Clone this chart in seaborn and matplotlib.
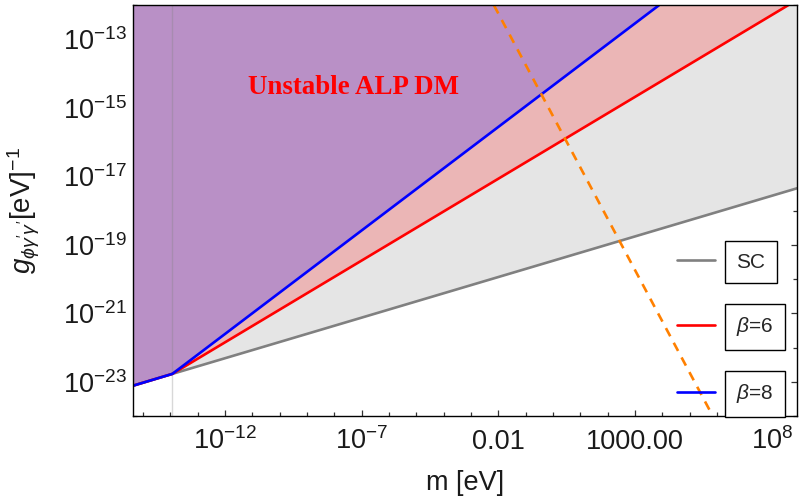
import matplotlib
matplotlib.use("Agg")
import matplotlib.pyplot as plt
import matplotlib.ticker as mticker
from matplotlib.lines import Line2D
import numpy as np
import pandas as pd
import seaborn as sns

# ---- data (mass in eV, coupling in eV^-1) ----
m_range = [4.2e-16, 8.3e8]
g_range = [1e-24, 1e-12]

m_sc = [4.2e-16, 1.2e-14, 8.3e8]
g_sc = [7.6e-24, 1.7e-23, 4.5e-18]

m_beta6 = [4.2e-16, 1.2e-14, 3.9e8]
g_beta6 = [7.6e-24, 1.7e-23, 1e-12]

m_beta8 = [4.2e-16, 1.2e-14, 7.4e3]
g_beta8 = [7.6e-24, 1.7e-23, 1e-12]

m_dashed = [6.9e-3, 6.9e5]
g_dashed = [1e-12, 1e-24]

m_threshold = 1.2e-14

x_tick_vals = [1e-12, 1e-7, 1e-2, 1e3, 1e8]
x_tick_labels = [r"$10^{-12}$", r"$10^{-7}$", "0.01", "1000.00", r"$10^{8}$"]
y_tick_vals = [1e-23, 1e-21, 1e-19, 1e-17, 1e-15, 1e-13]

legend_labels = ["SC", r"$\beta$=6", r"$\beta$=8"]

# ---- style ----
sns.set_style("ticks")
plt.rcParams["font.family"] = ["Liberation Sans", "DejaVu Sans"]
plt.rcParams["mathtext.fontset"] = "custom"
plt.rcParams["mathtext.rm"] = "Liberation Sans"
plt.rcParams["mathtext.it"] = "Liberation Sans:italic"
plt.rcParams["mathtext.bf"] = "Liberation Sans:bold"

c_purple = "#b990c6"
c_pink = "#ebb6b6"
c_grey = "#e5e5e5"
c_sc = "#808080"
c_red = "#ff0000"
c_blue = "#0000ff"
c_orange = "#ff8000"
c_text = "#1a1a1a"

fig = plt.figure(figsize=(8, 4.99), dpi=100)
ax = fig.add_axes([132.5 / 800, 1 - 416 / 499, (797 - 132.5) / 800, (416 - 5.3) / 499])
ax.set_xscale("log")
ax.set_yscale("log")

top = g_range[1]
# shaded regions, layered from the SC bound upward
ax.fill_between(m_sc, g_sc, top, color=c_grey, lw=0, zorder=1)
ax.fill_between(m_beta6, g_beta6, top, color=c_pink, lw=0, zorder=2)
ax.fill_between(m_beta8, g_beta8, top, color=c_purple, lw=0, zorder=3)

ax.axvline(m_threshold, color="#808080", alpha=0.3, lw=1.0, zorder=4)

lw = 1.9
df_sc = pd.DataFrame({"m": m_sc, "g": g_sc})
df_b6 = pd.DataFrame({"m": m_beta6, "g": g_beta6})
df_b8 = pd.DataFrame({"m": m_beta8, "g": g_beta8})
df_dash = pd.DataFrame({"m": m_dashed, "g": g_dashed})

sns.lineplot(data=df_sc, x="m", y="g", color=c_sc, lw=lw, ax=ax, zorder=5, legend=False)
sns.lineplot(data=df_b6, x="m", y="g", color=c_red, lw=lw, ax=ax, zorder=6, legend=False)
sns.lineplot(data=df_b8, x="m", y="g", color=c_blue, lw=lw, ax=ax, zorder=7, legend=False)
sns.lineplot(data=df_dash, x="m", y="g", color=c_orange, lw=lw, ax=ax, zorder=8,
             legend=False, dashes=False, linestyle=(0, (3.5, 2.8)))

ax.set_xlim(*m_range)
ax.set_ylim(*g_range)

# ---- ticks ----
ax.xaxis.set_major_locator(mticker.FixedLocator(x_tick_vals))
ax.xaxis.set_major_formatter(mticker.FixedFormatter(x_tick_labels))
ax.xaxis.set_minor_locator(mticker.LogLocator(base=10, subs=(1.0,), numticks=60))
ax.xaxis.set_minor_formatter(mticker.NullFormatter())
ax.yaxis.set_major_locator(mticker.FixedLocator(y_tick_vals))
ax.yaxis.set_major_formatter(mticker.LogFormatterSciNotation())
ax.yaxis.set_minor_locator(mticker.LogLocator(base=10, subs=(1.0,), numticks=60))
ax.yaxis.set_minor_formatter(mticker.NullFormatter())

ax.tick_params(which="both", direction="in", top=True, right=True, color="#333333",
               width=0.9, labelsize=19.5, labelcolor=c_text)
ax.tick_params(which="major", length=4.5)
ax.tick_params(which="minor", length=2.7)
ax.tick_params(axis="x", which="major", pad=24)
ax.tick_params(axis="y", which="major", pad=4)
for t in ax.get_xticklabels():
    t.set_verticalalignment("baseline")

for s in ax.spines.values():
    s.set_color("black")
    s.set_linewidth(1.0)
    s.set_zorder(10)

ax.set_xlabel("m [eV]", fontsize=19.5, color=c_text, labelpad=10.5)
ax.set_ylabel(r"$g_{\phi\gamma'\gamma'}$[eV]$^{-1}$", fontsize=20, color=c_text, labelpad=15)

ax.text(0.332, 0.801, "Unstable ALP DM", transform=ax.transAxes, ha="center", va="center",
        color="red", fontsize=19.4, fontweight="bold", family="Liberation Serif", zorder=9)

# ---- legend with framed labels ----
handles = [Line2D([], [], color=c, lw=lw) for c in (c_sc, c_red, c_blue)]
leg = ax.legend(handles, legend_labels, loc="center left", bbox_to_anchor=(0.819, 0.212),
                frameon=False, fontsize=15, handlelength=1.85, handletextpad=1.0,
                labelspacing=2.1, borderpad=0, borderaxespad=0)
for t in leg.get_texts():
    t.set_bbox(dict(boxstyle="square,pad=0.55", facecolor="white", edgecolor="black", lw=1.0))
leg.set_zorder(11)

fig.savefig("out.png", dpi=100)
